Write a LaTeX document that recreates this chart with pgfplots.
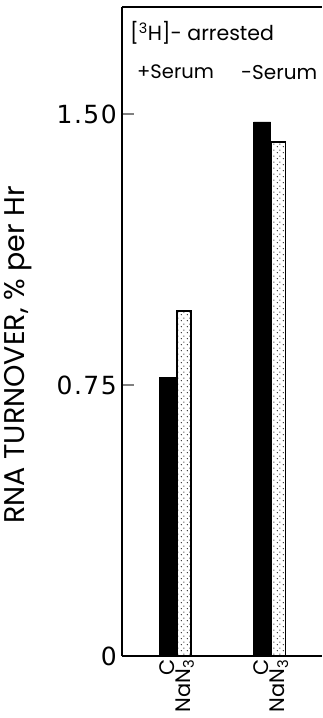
\documentclass[border=0pt]{standalone}
\usepackage{pgfplots}
\pgfplotsset{compat=1.18}
\usepackage{fontspec}
\setmainfont{Poppins}
\newfontfamily\tickfont[LetterSpace=6]{DejaVu Sans}
\usetikzlibrary{patterns.meta,calc}
\tikzdeclarepattern{name=sdots, type=uncolored,
  bounding box={(0,0) and (6pt,6pt)}, tile size={(6pt,6pt)},
  code={\pgfpathcircle{\pgfpoint{1.5pt}{1.5pt}}{0.65pt}\pgfpathcircle{\pgfpoint{4.5pt}{4.5pt}}{0.65pt}\pgfusepath{fill}}}
\begin{document}
\begin{tikzpicture}
\begin{axis}[name=ax,
  scale only axis, width=200pt, height=649pt,
  xmin=0.4244, xmax=2.546, ymin=0, ymax=1.796,
  axis x line*=bottom, axis y line*=left,
  axis line style={-, line width=1.6pt},
  xtick={0.9,1.09,1.9,2.09},
  xticklabels={C,NaN\textsubscript{3},C,NaN\textsubscript{3}},
  x tick label style={rotate=90, anchor=east, font=\fontsize{21}{24}\selectfont, inner sep=3pt},
  major x tick style={draw=none},
  ytick={0,0.75,1.5},
  yticklabels={{\tickfont 0},{\tickfont 0.75},{\tickfont 1.50}},
  y tick label style={font=\fontsize{25}{28}\selectfont, inner sep=5pt},
  ytick pos=left, tick align=inside,
  major tick length=12pt,
  major y tick style={line width=1.6pt},
  ylabel={RNA TURNOVER, \% per Hr},
  ylabel style={at={(axis description cs:-0.52,0.464)}, anchor=center, font=\fontsize{28.5}{32}\selectfont},
  clip=false,
]
\addplot[ybar, bar width=17pt, bar shift=-8.5pt, fill=black, draw=black] coordinates {(1,0.772) (2,1.478)};
\addplot[ybar, bar width=14pt, bar shift=8pt, draw=black, line width=1.8pt, pattern=sdots, pattern color=black] coordinates {(1,0.955) (2,1.423)};
\draw[line width=1.6pt] (rel axis cs:0,1) -- (rel axis cs:1,1);
\node[anchor=west, font=\fontsize{20.5}{24}\selectfont, inner sep=0pt] at (axis cs:0.509,1.724) {[\textsuperscript{3}H]- arrested};
\node[anchor=west, font=\fontsize{19.5}{24}\selectfont, inner sep=0pt] at (axis cs:0.583,1.616) {+Serum};
\node[anchor=west, font=\fontsize{20}{24}\selectfont, inner sep=0pt] at (axis cs:1.687,1.616) {-Serum};
\end{axis}
\pgfresetboundingbox
\path[use as bounding box] ($(ax.south west)+(-122pt,-62pt)$) rectangle ++(322pt,718pt);
\end{tikzpicture}
\end{document}
